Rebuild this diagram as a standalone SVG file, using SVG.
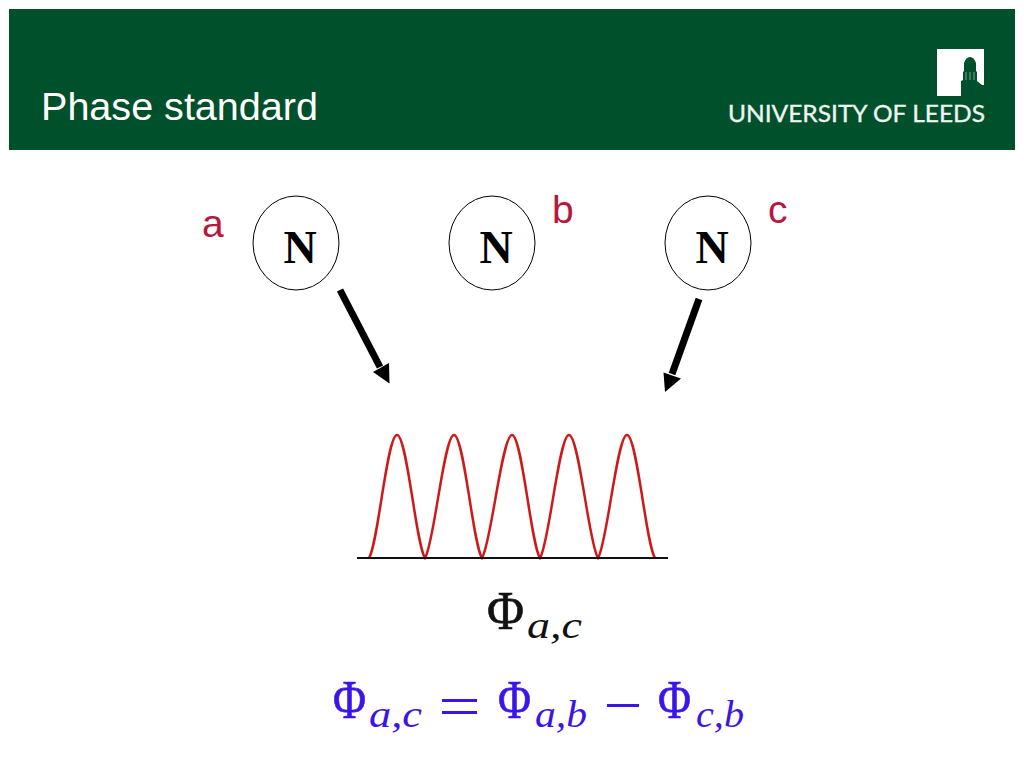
<svg xmlns="http://www.w3.org/2000/svg" width="1024" height="768" viewBox="0 0 1024 768">
<style>
.sans{font-family:"Liberation Sans",Arial,sans-serif}
.label{font-size:39px;fill:#b7173f}
.circle{fill:#fff;stroke:#000;stroke-width:1}
.n{font-family:"Liberation Serif","Times New Roman",serif;font-weight:bold;font-size:46px;fill:#000;text-anchor:middle}
.phi{font-family:"Liberation Serif","Times New Roman",serif;font-size:54px;stroke-width:.7}
.sub{font-family:"Liberation Serif","Times New Roman",serif;font-style:italic;font-size:38px}
.blue{fill:#3a14e8}
.arrow{stroke:#000;stroke-width:7;fill:none}
</style>
<rect width="1024" height="768" fill="#fff"/>
<g id="header">
<rect x="9" y="9" width="1006" height="141" fill="#00502c"/>
<text class="sans" x="41" y="120" font-size="38" fill="#fff" textLength="277" lengthAdjust="spacingAndGlyphs">Phase standard</text>
<rect x="937" y="49" width="47" height="47" fill="#fff"/>
<path d="M961 96 L961 81 L963 80 L963 72 L964 71 L964 63 Q966 57 970 57 Q974 57 976 63 L976 71 L977 72 L977 81 L982 85 L984 85 L984 96 Z" fill="#00502c"/>
<path d="M966 72V80M970 72V80M974 72V80" stroke="#fff" stroke-width=".7" opacity=".7"/>
<text x="728" y="122" font-family="Lato,'Open Sans',sans-serif" font-size="23.5" fill="#f0f5f1" stroke="#f0f5f1" stroke-width=".35" textLength="257" lengthAdjust="spacingAndGlyphs">UNIVERSITY OF LEEDS</text>
</g>
<g id="node-a">
<ellipse class="circle" cx="296" cy="243" rx="43" ry="47"/>
<text class="n" x="300" y="263">N</text>
<text class="sans label" x="202" y="237">a</text>
</g>
<g id="node-b">
<ellipse class="circle" cx="492" cy="243" rx="43" ry="47"/>
<text class="n" x="496" y="263">N</text>
<text class="sans label" x="552" y="223">b</text>
</g>
<g id="node-c">
<ellipse class="circle" cx="708" cy="243" rx="43" ry="47"/>
<text class="n" x="712" y="263">N</text>
<text class="sans label" x="768" y="223">c</text>
</g>
<g id="connectors">
<line class="arrow" x1="340" y1="290" x2="380" y2="367"/>
<polygon points="389.500,383.500 373,372 389,363" fill="#000"/>
<line class="arrow" x1="699" y1="299" x2="672" y2="374"/>
<polygon points="665,392 663.500,372.500 681,378.500" fill="#000"/>
</g>
<g id="plot">
<path d="M369 558 C378 545 387 435 397 435 C407 435 416 545 425 558 C434 545 444 435 454 435 C464 435 473 545 482 558 C491 545 502 435 512 435 C522 435 531 545 540 558 C549 545 559 435 569 435 C579 435 589 545 598 558 C607 545 617 435 627 435 C637 435 646 545 655 558" fill="none" stroke="#cc1a1a" stroke-width="2.500"/>
<line x1="357" y1="558" x2="668" y2="558" stroke="#111" stroke-width="2"/>
</g>
<g id="formula-top">
<text class="phi" x="487" y="629" fill="#111" stroke="#111" textLength="37" lengthAdjust="spacingAndGlyphs">Φ</text>
<text class="sub" x="527" y="638" fill="#111" textLength="55" lengthAdjust="spacingAndGlyphs">a,c</text>
</g>
<g id="formula-bottom" class="blue">
<text class="phi" x="333" y="718" stroke="#3a14e8" textLength="33" lengthAdjust="spacingAndGlyphs">Φ</text>
<text class="sub" x="369" y="727" textLength="53" lengthAdjust="spacingAndGlyphs">a,c</text>
<text class="phi" x="498" y="718" stroke="#3a14e8" textLength="33" lengthAdjust="spacingAndGlyphs">Φ</text>
<text class="sub" x="535" y="727" textLength="52" lengthAdjust="spacingAndGlyphs">a,b</text>
<text class="phi" x="658" y="718" stroke="#3a14e8" textLength="33" lengthAdjust="spacingAndGlyphs">Φ</text>
<text class="sub" x="696" y="727" textLength="48" lengthAdjust="spacingAndGlyphs">c,b</text>
<rect x="442" y="699" width="35" height="3"/>
<rect x="442" y="711" width="35" height="3"/>
<rect x="607" y="704" width="32" height="3"/>
</g>
</svg>
